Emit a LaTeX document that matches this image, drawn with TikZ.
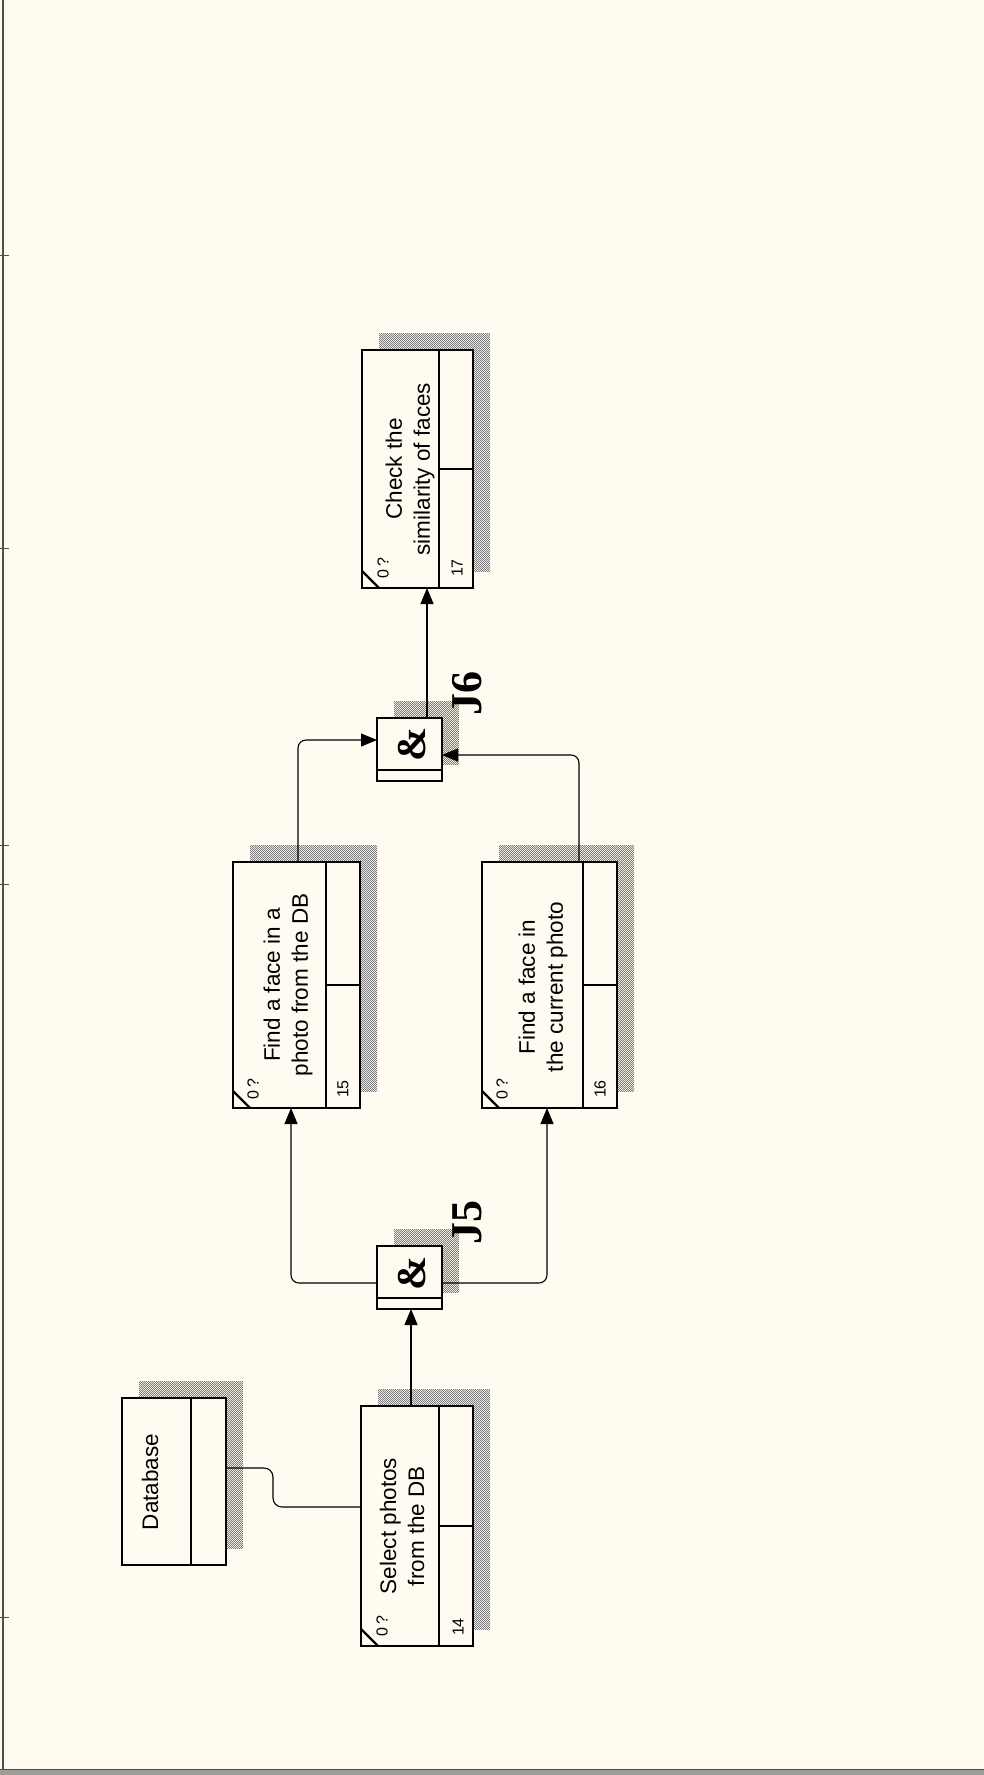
\documentclass[tikz,border=0pt]{standalone}
\usepackage{fontspec}
\setmainfont{Liberation Serif}
\setsansfont{Liberation Sans}
\usetikzlibrary{arrows.meta,calc,shadows,patterns}
\definecolor{IdefCream}{HTML}{FFFBF0}
\definecolor{IdefFrame}{HTML}{4E4E46}
\definecolor{IdefShade}{HTML}{7C7C7C}

\pgfdeclarepatternformonly{idefcheck}{\pgfpointorigin}{\pgfpoint{2.4pt}{2.4pt}}{\pgfpoint{2.4pt}{2.4pt}}{
  \pgfpathrectangle{\pgfpointorigin}{\pgfpoint{1.2pt}{1.2pt}}
  \pgfpathrectangle{\pgfpoint{1.2pt}{1.2pt}}{\pgfpoint{1.2pt}{1.2pt}}
  \pgfusepath{fill}
}

\tikzset{
  uob/.style={rectangle,draw=black,line width=2.4pt,fill=IdefCream,inner sep=0pt,outer sep=0pt,anchor=north west,
    drop shadow={shadow xshift=17pt,shadow yshift=17pt,opacity=1,pattern=idefcheck,pattern color=IdefShade}},
  divline/.style={draw=black,line width=2.4pt},
  boxtext/.style={font=\sffamily\fontsize{22.5}{28}\selectfont,rotate=90,align=center,inner sep=0pt},
  reftext/.style={font=\sffamily\fontsize{16}{18}\selectfont,rotate=90,inner sep=0pt},
  amptext/.style={font=\rmfamily\bfseries\fontsize{41}{41}\selectfont,rotate=90,inner sep=0pt},
  jlabel/.style={font=\rmfamily\bfseries\fontsize{44}{44}\selectfont,rotate=90,inner sep=0pt},
  flow/.style={draw=black,line width=1.1pt,rounded corners=8pt,-{Triangle[length=16pt,width=13pt]}},
  link/.style={draw=black,line width=1.1pt,rounded corners=9pt}
}

\begin{document}
\begin{tikzpicture}[x=1pt,y=-1pt]
  % sheet and frame
  \fill[IdefCream] (0,0) rectangle (984,1775);
  \useasboundingbox (0,0) rectangle (984,1775);
  \fill[IdefFrame!55] (0,1769) rectangle (984,1775);
  \draw[IdefFrame,line width=1.2pt] (0,1769.5) -- (984,1769.5);
  \draw[IdefFrame,line width=2.4pt] (3,0) -- (3,1770);
  \foreach \ty in {255,548,845,884,1617}
    \draw[IdefFrame,line width=0.8pt] (0,\ty) -- (9,\ty);

  % boxes
  \node[uob,minimum width=104pt,minimum height=167pt] (db) at (122,1398) {};
  \node[uob,minimum width=112pt,minimum height=240pt] (sel) at (361,1406) {};
  \node[uob,minimum width=127pt,minimum height=246pt] (fdb) at (233,862) {};
  \node[uob,minimum width=135pt,minimum height=246pt] (fcur) at (482,862) {};
  \node[uob,minimum width=111pt,minimum height=238pt] (chk) at (362,350) {};
  \node[uob,minimum width=65pt,minimum height=63pt] (j5) at (377,1246) {};
  \node[uob,minimum width=65pt,minimum height=63pt] (j6) at (377,718) {};

  % box partitions
  \draw[divline] ($(db.north east)+(-35,0)$) -- ($(db.south east)+(-35,0)$);
  \foreach \b in {sel,fdb,fcur,chk} {
    \draw[divline] ($(\b.north east)+(-34,0)$) -- ($(\b.south east)+(-34,0)$);
    \draw[divline] ($(\b.east)+(-34,0)$) -- (\b.east);
    \draw[divline] ($(\b.south west)+(0,-17)$) -- ($(\b.south west)+(17,0)$);
  }
  \foreach \j in {j5,j6}
    \draw[divline] ($(\j.south west)+(0,-11)$) -- ($(\j.south east)+(0,-11)$);

  % texts
  \node[boxtext] at (150,1482) {Database};
  \node[boxtext] at (402,1526) {Select photos\\from the DB};
  \node[boxtext] at (288,985) {Find a face in a\\photo from the DB};
  \node[boxtext] at (543,987) {Find a face in\\the current photo};
  \node[boxtext] at (410,469) {Check the\\similarity of faces};
  \node[reftext] at (382,1626) {0\,?};
  \node[reftext] at (458,1627) {14};
  \node[reftext] at (253,1089) {0\,?};
  \node[reftext] at (343,1089) {15};
  \node[reftext] at (502,1089) {0\,?};
  \node[reftext] at (600,1089) {16};
  \node[reftext] at (383,568) {0\,?};
  \node[reftext] at (457,568) {17};
  \node[amptext] at (412,1273) {\&};
  \node[amptext] at (412,744) {\&};
  \node[jlabel] at (467,1222) {J5};
  \node[jlabel] at (467,693) {J6};

  % connectors
  \draw[link] ($(db.north east)+(0,70)$) -- ++(47,0) |- ($(sel.north west)+(0,101)$);
  \draw[flow] ($(sel.north west)+(50,0)$) -- ($(j5.south west)+(34,0)$);
  \draw[flow] ($(j5.north west)+(0,37)$) -| ($(fdb.south west)+(58,0)$);
  \draw[flow] ($(j5.north east)+(0,37)$) -| ($(fcur.south west)+(65,0)$);
  \draw[flow] ($(fdb.north west)+(65,0)$) |- ($(j6.north west)+(0,22)$);
  \draw[flow] ($(fcur.north west)+(97,0)$) |- ($(j6.north east)+(0,37)$);
  \draw[flow] ($(j6.north west)+(50,0)$) -- ($(chk.south west)+(65,0)$);
\end{tikzpicture}
\end{document}
